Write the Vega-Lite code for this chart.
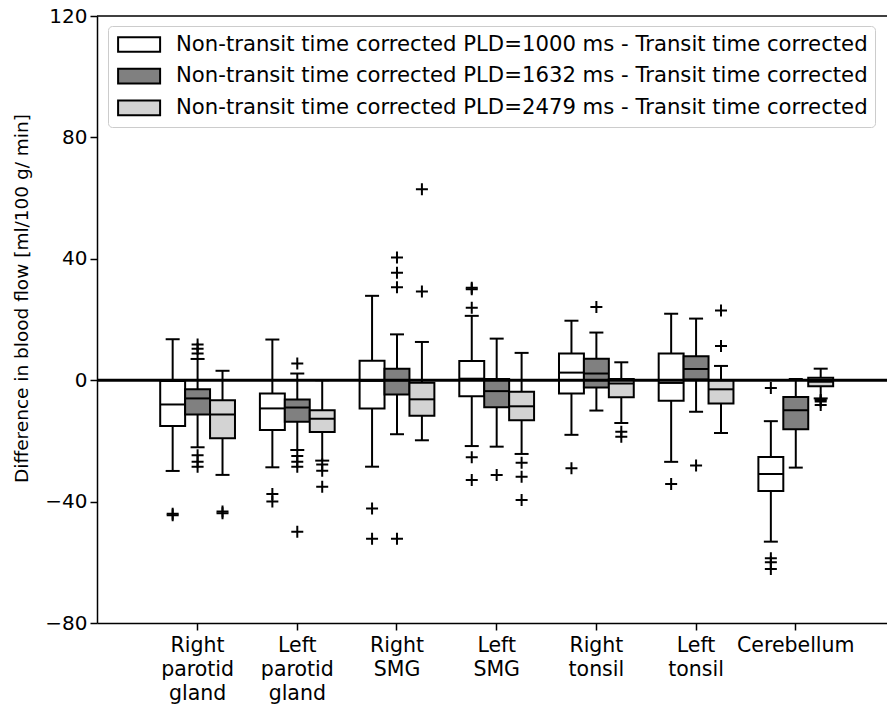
{
  "$schema": "https://vega.github.io/schema/vega-lite/v6.json",
  "width": 790,
  "height": 607,
  "autosize": {"type": "none"},
  "padding": {"left": 97, "top": 16, "right": 0, "bottom": 88},
  "config": {
    "font": "DejaVu Sans",
    "view": {"stroke": null},
    "axis": {"grid": false, "domainColor": "black", "domainWidth": 1.5, "tickColor": "black", "tickWidth": 1.5, "tickSize": 7, "labelColor": "black", "labelFont": "DejaVu Sans", "labelFontSize": 20, "titleFont": "DejaVu Sans", "titleFontSize": 18.5, "titleFontWeight": "normal", "titleColor": "black"}
  },
  "datasets": {
    "boxes": [
      {"region": "Right parotid gland", "series": "Non-transit time corrected PLD=1000 ms - Transit time corrected", "lo": -29.9, "q1": -15.1, "med": -8.0, "q3": -0.3, "hi": 13.5},
      {"region": "Right parotid gland", "series": "Non-transit time corrected PLD=1632 ms - Transit time corrected", "lo": -22.1, "q1": -11.3, "med": -6.0, "q3": -3.0, "hi": 7.0},
      {"region": "Right parotid gland", "series": "Non-transit time corrected PLD=2479 ms - Transit time corrected", "lo": -31.2, "q1": -19.1, "med": -11.3, "q3": -6.6, "hi": 3.1},
      {"region": "Left parotid gland", "series": "Non-transit time corrected PLD=1000 ms - Transit time corrected", "lo": -28.7, "q1": -16.4, "med": -9.3, "q3": -4.4, "hi": 13.4},
      {"region": "Left parotid gland", "series": "Non-transit time corrected PLD=1632 ms - Transit time corrected", "lo": -23.0, "q1": -13.7, "med": -9.0, "q3": -6.4, "hi": 2.2},
      {"region": "Left parotid gland", "series": "Non-transit time corrected PLD=2479 ms - Transit time corrected", "lo": -26.5, "q1": -17.1, "med": -12.7, "q3": -9.9, "hi": 0.0},
      {"region": "Right SMG", "series": "Non-transit time corrected PLD=1000 ms - Transit time corrected", "lo": -28.5, "q1": -9.3, "med": -0.2, "q3": 6.4, "hi": 27.8},
      {"region": "Right SMG", "series": "Non-transit time corrected PLD=1632 ms - Transit time corrected", "lo": -17.8, "q1": -4.7, "med": 0.0, "q3": 3.8, "hi": 15.1},
      {"region": "Right SMG", "series": "Non-transit time corrected PLD=2479 ms - Transit time corrected", "lo": -19.8, "q1": -11.7, "med": -6.3, "q3": -0.8, "hi": 12.6},
      {"region": "Left SMG", "series": "Non-transit time corrected PLD=1000 ms - Transit time corrected", "lo": -21.7, "q1": -5.3, "med": 0.5, "q3": 6.3, "hi": 21.2},
      {"region": "Left SMG", "series": "Non-transit time corrected PLD=1632 ms - Transit time corrected", "lo": -21.9, "q1": -8.9, "med": -3.6, "q3": 0.4, "hi": 13.7},
      {"region": "Left SMG", "series": "Non-transit time corrected PLD=2479 ms - Transit time corrected", "lo": -24.3, "q1": -13.2, "med": -8.6, "q3": -3.8, "hi": 9.0},
      {"region": "Right tonsil", "series": "Non-transit time corrected PLD=1000 ms - Transit time corrected", "lo": -18.0, "q1": -4.4, "med": 2.5, "q3": 8.8, "hi": 19.6},
      {"region": "Right tonsil", "series": "Non-transit time corrected PLD=1632 ms - Transit time corrected", "lo": -10.0, "q1": -2.4, "med": 2.2, "q3": 7.1, "hi": 15.7},
      {"region": "Right tonsil", "series": "Non-transit time corrected PLD=2479 ms - Transit time corrected", "lo": -14.1, "q1": -5.6, "med": -1.1, "q3": 0.4, "hi": 5.9},
      {"region": "Left tonsil", "series": "Non-transit time corrected PLD=1000 ms - Transit time corrected", "lo": -26.9, "q1": -6.8, "med": -0.9, "q3": 8.8, "hi": 21.9},
      {"region": "Left tonsil", "series": "Non-transit time corrected PLD=1632 ms - Transit time corrected", "lo": -10.4, "q1": 0.2, "med": 3.7, "q3": 7.9, "hi": 20.3},
      {"region": "Left tonsil", "series": "Non-transit time corrected PLD=2479 ms - Transit time corrected", "lo": -17.4, "q1": -7.7, "med": -3.0, "q3": 0.0, "hi": 4.7},
      {"region": "Cerebellum", "series": "Non-transit time corrected PLD=1000 ms - Transit time corrected", "lo": -53.2, "q1": -36.5, "med": -30.9, "q3": -25.3, "hi": -13.5},
      {"region": "Cerebellum", "series": "Non-transit time corrected PLD=1632 ms - Transit time corrected", "lo": -28.8, "q1": -16.2, "med": -9.9, "q3": -5.5, "hi": 0.4},
      {"region": "Cerebellum", "series": "Non-transit time corrected PLD=2479 ms - Transit time corrected", "lo": -6.0, "q1": -2.0, "med": -0.5, "q3": 0.8, "hi": 3.8}
    ],
    "outliers": [
      {"region": "Right parotid gland", "series": "Non-transit time corrected PLD=1000 ms - Transit time corrected", "value": -44.0},
      {"region": "Right parotid gland", "series": "Non-transit time corrected PLD=1000 ms - Transit time corrected", "value": -44.5},
      {"region": "Right parotid gland", "series": "Non-transit time corrected PLD=1632 ms - Transit time corrected", "value": 8.8},
      {"region": "Right parotid gland", "series": "Non-transit time corrected PLD=1632 ms - Transit time corrected", "value": 10.4},
      {"region": "Right parotid gland", "series": "Non-transit time corrected PLD=1632 ms - Transit time corrected", "value": 11.8},
      {"region": "Right parotid gland", "series": "Non-transit time corrected PLD=1632 ms - Transit time corrected", "value": -24.7},
      {"region": "Right parotid gland", "series": "Non-transit time corrected PLD=1632 ms - Transit time corrected", "value": -26.9},
      {"region": "Right parotid gland", "series": "Non-transit time corrected PLD=1632 ms - Transit time corrected", "value": -28.5},
      {"region": "Right parotid gland", "series": "Non-transit time corrected PLD=2479 ms - Transit time corrected", "value": -43.3},
      {"region": "Right parotid gland", "series": "Non-transit time corrected PLD=2479 ms - Transit time corrected", "value": -43.8},
      {"region": "Left parotid gland", "series": "Non-transit time corrected PLD=1000 ms - Transit time corrected", "value": -37.5},
      {"region": "Left parotid gland", "series": "Non-transit time corrected PLD=1000 ms - Transit time corrected", "value": -40.0},
      {"region": "Left parotid gland", "series": "Non-transit time corrected PLD=1632 ms - Transit time corrected", "value": 5.5},
      {"region": "Left parotid gland", "series": "Non-transit time corrected PLD=1632 ms - Transit time corrected", "value": -25.0},
      {"region": "Left parotid gland", "series": "Non-transit time corrected PLD=1632 ms - Transit time corrected", "value": -26.9},
      {"region": "Left parotid gland", "series": "Non-transit time corrected PLD=1632 ms - Transit time corrected", "value": -28.5},
      {"region": "Left parotid gland", "series": "Non-transit time corrected PLD=1632 ms - Transit time corrected", "value": -49.9},
      {"region": "Left parotid gland", "series": "Non-transit time corrected PLD=2479 ms - Transit time corrected", "value": -27.8},
      {"region": "Left parotid gland", "series": "Non-transit time corrected PLD=2479 ms - Transit time corrected", "value": -29.8},
      {"region": "Left parotid gland", "series": "Non-transit time corrected PLD=2479 ms - Transit time corrected", "value": -35.1},
      {"region": "Right SMG", "series": "Non-transit time corrected PLD=1000 ms - Transit time corrected", "value": -42.3},
      {"region": "Right SMG", "series": "Non-transit time corrected PLD=1000 ms - Transit time corrected", "value": -52.2},
      {"region": "Right SMG", "series": "Non-transit time corrected PLD=1632 ms - Transit time corrected", "value": 30.6},
      {"region": "Right SMG", "series": "Non-transit time corrected PLD=1632 ms - Transit time corrected", "value": 35.4},
      {"region": "Right SMG", "series": "Non-transit time corrected PLD=1632 ms - Transit time corrected", "value": 40.4},
      {"region": "Right SMG", "series": "Non-transit time corrected PLD=1632 ms - Transit time corrected", "value": -52.2},
      {"region": "Right SMG", "series": "Non-transit time corrected PLD=2479 ms - Transit time corrected", "value": 29.2},
      {"region": "Right SMG", "series": "Non-transit time corrected PLD=2479 ms - Transit time corrected", "value": 62.9},
      {"region": "Left SMG", "series": "Non-transit time corrected PLD=1000 ms - Transit time corrected", "value": 23.9},
      {"region": "Left SMG", "series": "Non-transit time corrected PLD=1000 ms - Transit time corrected", "value": 30.0},
      {"region": "Left SMG", "series": "Non-transit time corrected PLD=1000 ms - Transit time corrected", "value": 30.5},
      {"region": "Left SMG", "series": "Non-transit time corrected PLD=1000 ms - Transit time corrected", "value": -25.4},
      {"region": "Left SMG", "series": "Non-transit time corrected PLD=1000 ms - Transit time corrected", "value": -32.9},
      {"region": "Left SMG", "series": "Non-transit time corrected PLD=1632 ms - Transit time corrected", "value": -31.2},
      {"region": "Left SMG", "series": "Non-transit time corrected PLD=2479 ms - Transit time corrected", "value": -27.2},
      {"region": "Left SMG", "series": "Non-transit time corrected PLD=2479 ms - Transit time corrected", "value": -31.8},
      {"region": "Left SMG", "series": "Non-transit time corrected PLD=2479 ms - Transit time corrected", "value": -39.5},
      {"region": "Right tonsil", "series": "Non-transit time corrected PLD=1000 ms - Transit time corrected", "value": -29.0},
      {"region": "Right tonsil", "series": "Non-transit time corrected PLD=1632 ms - Transit time corrected", "value": 24.1},
      {"region": "Right tonsil", "series": "Non-transit time corrected PLD=2479 ms - Transit time corrected", "value": -17.0},
      {"region": "Right tonsil", "series": "Non-transit time corrected PLD=2479 ms - Transit time corrected", "value": -18.6},
      {"region": "Left tonsil", "series": "Non-transit time corrected PLD=1000 ms - Transit time corrected", "value": -34.2},
      {"region": "Left tonsil", "series": "Non-transit time corrected PLD=1632 ms - Transit time corrected", "value": -28.1},
      {"region": "Left tonsil", "series": "Non-transit time corrected PLD=2479 ms - Transit time corrected", "value": 11.3},
      {"region": "Left tonsil", "series": "Non-transit time corrected PLD=2479 ms - Transit time corrected", "value": 23.0},
      {"region": "Cerebellum", "series": "Non-transit time corrected PLD=1000 ms - Transit time corrected", "value": -2.6},
      {"region": "Cerebellum", "series": "Non-transit time corrected PLD=1000 ms - Transit time corrected", "value": -58.7},
      {"region": "Cerebellum", "series": "Non-transit time corrected PLD=1000 ms - Transit time corrected", "value": -60.0},
      {"region": "Cerebellum", "series": "Non-transit time corrected PLD=1000 ms - Transit time corrected", "value": -62.2},
      {"region": "Cerebellum", "series": "Non-transit time corrected PLD=2479 ms - Transit time corrected", "value": -6.5},
      {"region": "Cerebellum", "series": "Non-transit time corrected PLD=2479 ms - Transit time corrected", "value": -7.0},
      {"region": "Cerebellum", "series": "Non-transit time corrected PLD=2479 ms - Transit time corrected", "value": -8.2}
    ]
  },
  "layer": [
    {
      "data": {"name": "boxes"},
      "mark": {"type": "rule", "color": "black", "strokeWidth": 2},
      "encoding": {
        "x": {"field": "region", "type": "nominal", "title": null, "sort": null,
          "scale": {"domain": ["Right parotid gland", "Left parotid gland", "Right SMG", "Left SMG", "Right tonsil", "Left tonsil", "Cerebellum"], "paddingInner": 0.25, "paddingOuter": 0.587, "align": 0.54},
          "axis": {"labelAngle": 0, "labelExpr": "split(datum.label, ' ')", "labelLineHeight": 24, "labelPadding": 5, "labelOverlap": false, "labelLimit": 300, "labelFontSize": 20.5}},
        "xOffset": {"field": "series", "type": "nominal", "scale": {"domain": ["Non-transit time corrected PLD=1000 ms - Transit time corrected", "Non-transit time corrected PLD=1632 ms - Transit time corrected", "Non-transit time corrected PLD=2479 ms - Transit time corrected"], "paddingInner": 0, "paddingOuter": 0}},
        "y": {"field": "lo", "type": "quantitative", "title": "Difference in blood flow [ml/100 g/ min]",
          "scale": {"domain": [-80, 120], "nice": false, "zero": false},
          "axis": {"values": [-80, -40, 0, 40, 80, 120], "labelPadding": 3, "titlePadding": 13, "titleY": 282, "titleAlign": "center"}},
        "y2": {"field": "hi"}
      }
    },
    {
      "data": {"name": "boxes"},
      "mark": {"type": "bar", "stroke": "black", "strokeWidth": 2, "opacity": 1},
      "encoding": {
        "x": {"field": "region", "type": "nominal", "title": null},
        "xOffset": {"field": "series", "type": "nominal"},
        "y": {"field": "q1", "type": "quantitative", "title": "Difference in blood flow [ml/100 g/ min]"},
        "y2": {"field": "q3"},
        "fill": {"field": "series", "type": "nominal",
          "scale": {"domain": ["Non-transit time corrected PLD=1000 ms - Transit time corrected", "Non-transit time corrected PLD=1632 ms - Transit time corrected", "Non-transit time corrected PLD=2479 ms - Transit time corrected"], "range": ["#ffffff", "#808080", "#d3d3d3"]},
          "legend": {"title": null, "orient": "none", "legendX": 11, "legendY": 10, "labelLimit": 900, "labelFontSize": 21.2, "labelFont": "DejaVu Sans", "labelColor": "black",
            "symbolType": "M-0.8,-0.7L3.2,-0.7L3.2,0.7L-0.8,0.7Z", "symbolSize": 441, "symbolStrokeColor": "black", "symbolStrokeWidth": 2, "symbolOpacity": 1,
            "strokeColor": "#cccccc", "fillColor": "white", "cornerRadius": 4, "padding": 7, "labelOffset": 38, "rowPadding": 8.7}}
      }
    },
    {
      "data": {"name": "boxes"},
      "mark": {"type": "tick", "color": "black", "size": 25, "thickness": 2, "opacity": 1},
      "encoding": {
        "x": {"field": "region", "type": "nominal", "title": null},
        "xOffset": {"field": "series", "type": "nominal"},
        "y": {"field": "med", "type": "quantitative", "title": "Difference in blood flow [ml/100 g/ min]"}
      }
    },
    {
      "data": {"name": "boxes"},
      "mark": {"type": "tick", "color": "black", "size": 14, "thickness": 2, "opacity": 1},
      "encoding": {
        "x": {"field": "region", "type": "nominal", "title": null},
        "xOffset": {"field": "series", "type": "nominal"},
        "y": {"field": "lo", "type": "quantitative", "title": "Difference in blood flow [ml/100 g/ min]"}
      }
    },
    {
      "data": {"name": "boxes"},
      "mark": {"type": "tick", "color": "black", "size": 14, "thickness": 2, "opacity": 1},
      "encoding": {
        "x": {"field": "region", "type": "nominal", "title": null},
        "xOffset": {"field": "series", "type": "nominal"},
        "y": {"field": "hi", "type": "quantitative", "title": "Difference in blood flow [ml/100 g/ min]"}
      }
    },
    {
      "data": {"name": "outliers"},
      "mark": {"type": "point", "shape": "M-1,0L1,0M0,-1L0,1", "size": 144, "filled": false, "strokeWidth": 2, "color": "black", "opacity": 1},
      "encoding": {
        "x": {"field": "region", "type": "nominal", "title": null},
        "xOffset": {"field": "series", "type": "nominal"},
        "y": {"field": "value", "type": "quantitative", "title": "Difference in blood flow [ml/100 g/ min]"}
      }
    },
    {
      "data": {"values": [{}]},
      "mark": {"type": "rule", "color": "black", "strokeWidth": 3},
      "encoding": {"y": {"datum": 0, "type": "quantitative", "title": "Difference in blood flow [ml/100 g/ min]"}}
    },
    {
      "data": {"values": [{}]},
      "mark": {"type": "rule", "color": "black", "strokeWidth": 1.5},
      "encoding": {"y": {"datum": 120, "type": "quantitative", "title": "Difference in blood flow [ml/100 g/ min]"}}
    }
  ]
}
